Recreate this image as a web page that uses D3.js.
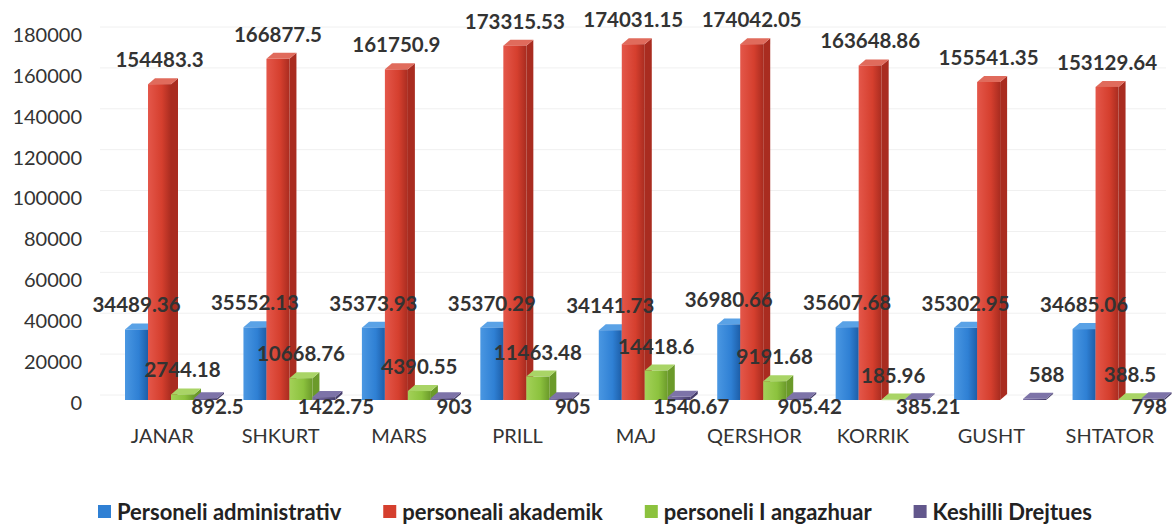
<!DOCTYPE html>
<html>
<head>
    <script src="https://cdn.jsdelivr.net/npm/d3@7"></script>
    <style>
        body { margin: 0; background: #fff; }
        text { font-family: Lato, "Open Sans", sans-serif; }
    </style>
</head>
<body>
    <svg id="chart"></svg>
    <script>
        // data
        const months = ["JANAR", "SHKURT", "MARS", "PRILL", "MAJ", "QERSHOR", "KORRIK", "GUSHT", "SHTATOR"];
        const seriesNames = ["Personeli administrativ", "personeali akademik", "personeli I angazhuar", "Keshilli Drejtues"];
        const administrativ = [34489.36, 35552.13, 35373.93, 35370.29, 34141.73, 36980.66, 35607.68, 35302.95, 34685.06];
        const akademik = [154483.3, 166877.5, 161750.9, 173315.53, 174031.15, 174042.05, 163648.86, 155541.35, 153129.64];
        const angazhuar = [2744.18, 10668.76, 4390.55, 11463.48, 14418.6, 9191.68, 185.96, null, 388.5];
        const keshilli = [892.5, 1422.75, 903, 905, 1540.67, 905.42, 385.21, 588, 798];
        const yTicks = [0, 20000, 40000, 60000, 80000, 100000, 120000, 140000, 160000, 180000];

        const seriesValues = [administrativ, akademik, angazhuar, keshilli];

        const config = {
            width: 1173,
            height: 526,
            depthX: 7,
            depthY: 6
        };

        // front / side / top colours per series
        const colors = [
            { front: "#2f80d4", light: "#4a97e2", side: "#1d5ea8", top: "#5aa2e6" },
            { front: "#d53f2e", light: "#e4574a", side: "#a92c20", top: "#e06b5c" },
            { front: "#8cc23e", light: "#a3d158", side: "#6b9a2a", top: "#a9d466" },
            { front: "#62578c", light: "#7a6fa3", side: "#463d6b", top: "#7d73a8" }
        ];

        const svg = d3.select("#chart")
            .attr("width", config.width)
            .attr("height", config.height);

        const defs = svg.append("defs");
        colors.forEach((c, i) => {
            const g = defs.append("linearGradient")
                .attr("id", "grad" + i)
                .attr("x1", "0").attr("x2", "1").attr("y1", "0").attr("y2", "0");
            g.append("stop").attr("offset", "0%").attr("stop-color", c.light);
            g.append("stop").attr("offset", "60%").attr("stop-color", c.front);
            g.append("stop").attr("offset", "100%").attr("stop-color", c.side);
        });

        const x = d3.scaleBand()
            .domain(months)
            .range([103, 1169]);

        const inner = d3.scaleBand()
            .domain(d3.range(seriesNames.length))
            .range([22, 114]);

        const yAxisScale = d3.scaleLinear()
            .domain([0, 180000])
            .range([403, 35]);

        const yBar = d3.scaleLinear()
            .domain([0, 180000])
            .range([400, 32]);

        // faint back wall gridlines
        svg.append("g")
            .selectAll("line")
            .data(yTicks)
            .enter()
            .append("line")
            .attr("x1", 100)
            .attr("x2", 1166)
            .attr("y1", d => yAxisScale(d) - 8)
            .attr("y2", d => yAxisScale(d) - 8)
            .attr("stroke", "#f0f0f0")
            .attr("stroke-width", 1);

        // y axis labels
        svg.append("g")
            .attr("transform", "translate(82,0)")
            .call(d3.axisLeft(yAxisScale).tickValues(yTicks).tickFormat(d3.format("d")).tickSize(0).tickPadding(0))
            .call(g => g.select(".domain").remove())
            .selectAll("text")
            .attr("font-family", "Lato")
            .attr("font-size", 20)
            .attr("fill", "#333");

        // x axis labels
        svg.append("g")
            .attr("transform", "translate(0,429)")
            .call(d3.axisBottom(x).tickSize(0).tickPadding(0))
            .call(g => g.select(".domain").remove())
            .selectAll("text")
            .attr("font-family", "Lato")
            .attr("font-size", 20)
            .attr("fill", "#333");

        // flatten into records
        let records = [];
        months.forEach((m, i) => {
            seriesValues.forEach((vals, s) => {
                if (vals[i] === null) return;
                records.push({ month: m, idx: i, series: s, value: vals[i] });
            });
        });

        const w = inner.bandwidth();
        const dx = config.depthX, dy = config.depthY;

        const bars = svg.append("g")
            .selectAll("g")
            .data(records)
            .enter()
            .append("g");

        bars.each(function (d) {
            const g = d3.select(this);
            const x0 = x(d.month) + inner(d.series);
            const yt = yBar(d.value);
            const yb = yBar(0);
            const c = colors[d.series];

            g.append("polygon")
                .attr("points", [[x0 + w, yt], [x0 + w + dx, yt - dy], [x0 + w + dx, yb - dy], [x0 + w, yb]].join(" "))
                .attr("fill", c.side);
            g.append("polygon")
                .attr("points", [[x0, yt], [x0 + dx, yt - dy], [x0 + w + dx, yt - dy], [x0 + w, yt]].join(" "))
                .attr("fill", c.top);
            g.append("rect")
                .attr("x", x0)
                .attr("y", yt)
                .attr("width", w)
                .attr("height", Math.max(0.5, yb - yt))
                .attr("fill", "url(#grad" + d.series + ")");
        });

        // value labels
        const labels = svg.append("g")
            .selectAll("text")
            .data(records)
            .enter()
            .append("text")
            .attr("text-anchor", "middle")
            .attr("font-family", "Lato")
            .attr("font-weight", "bold")
            .attr("font-size", 20.5)
            .attr("fill", "#333")
            .attr("y", d => {
                // the last series is labelled under the floor, unless the slot beside it is empty
                if (d.series === 3 && angazhuar[d.idx] !== null) return yBar(0) + 14;
                return yBar(d.value) - 17;
            })
            .text(d => String(d.value));

        labels.attr("x", function (d) {
            const cx = x(d.month) + inner(d.series) + w / 2;
            if (d.series !== 3) return cx;
            const half = this.getComputedTextLength() / 2;
            return Math.min(cx + 12, config.width - half - 6);
        });

        // legend
        const legend = svg.append("g")
            .attr("transform", "translate(98,505)");
        let cursor = 0;
        seriesNames.forEach((name, i) => {
            const item = legend.append("g").attr("transform", `translate(${cursor},0)`);
            item.append("rect")
                .attr("width", 13)
                .attr("height", 13)
                .attr("fill", colors[i].front);
            const t = item.append("text")
                .attr("x", 19)
                .attr("y", 15)
                .attr("font-family", "Lato")
                .attr("font-weight", "bold")
                .attr("font-size", 22)
                .attr("fill", "#222")
                .text(name);
            cursor += 19 + t.node().getComputedTextLength() + 42;
        });
    </script>
</body>
</html>
